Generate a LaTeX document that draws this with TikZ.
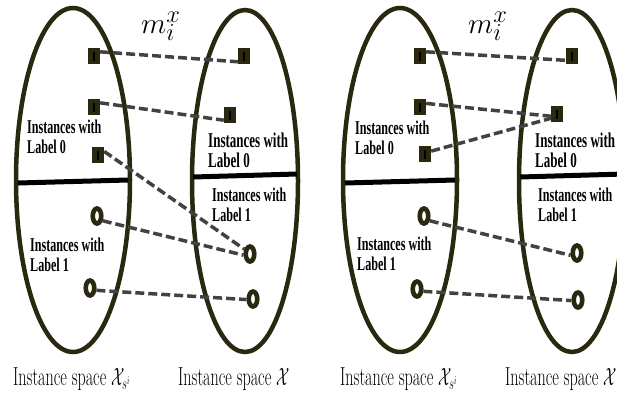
\documentclass[tikz,border=0pt]{standalone}
\usepackage{fontspec}
\usepackage{graphicx}
\usetikzlibrary{shapes.geometric}
\newfontfamily\lblfont{Liberation Serif}
\definecolor{olv}{RGB}{42,40,14}
\definecolor{dsh}{RGB}{66,66,66}
\newcommand{\twolines}[3]{\scalebox{0.62}[1]{\fontsize{#3}{20}\selectfont\begin{tabular}[t]{@{}l@{}}#1\\#2\end{tabular}}}
\tikzset{
  sq/.style={rectangle, fill=olv, minimum width=12pt, minimum height=16pt, inner sep=0pt,
    path picture={\draw[black,line width=2pt] ([yshift=-4.5pt]path picture bounding box.center)--([yshift=4.5pt]path picture bounding box.center);}},
  rg/.style={ellipse, draw=olv, fill=white, line width=4.6pt, minimum width=8.5pt, minimum height=15pt, inner sep=0pt},
  conn/.style={draw=dsh, line width=3.5pt, dash pattern=on 9pt off 4pt},
  lab/.style={inner sep=0pt, anchor=base west, font=\lblfont\bfseries},
  bot/.style={inner sep=0pt, anchor=base west, font=\fontsize{26}{28}\selectfont},
  mlab/.style={inner sep=0pt, anchor=base west, font=\fontsize{24.88}{26}\selectfont},
  space/.style={draw=olv, line width=4.5pt},
  divl/.style={draw=black, line width=5pt}
}
\begin{document}
\begin{tikzpicture}[x=1pt,y=-1pt]
\useasboundingbox (0,0) rectangle (617,400);
% ---------- left panel ----------
\draw[space] (73,180) ellipse [x radius=57, y radius=172];
\draw[space] (245,181) ellipse [x radius=53, y radius=171];
\draw[divl] (18,183) -- (128,180);
\draw[divl] (193,177) -- (297,174);
\node[sq] (as1) at (94,56) {};
\node[sq] (as2) at (94,107) {};
\node[sq] (as3) at (98,155) {};
\node[sq] (ar1) at (244,56) {};
\node[sq] (ar2) at (230,115) {};
\node[rg] (ac1) at (97,216) {};
\node[rg] (ac2) at (90,288) {};
\node[rg] (arc1) at (250,254) {};
\node[rg] (arc2) at (253,299) {};
\node[lab] (at1) at (27,133) {\twolines{Instances with}{Label 0}{19.5}};
\node[lab] (at2) at (208,147) {\twolines{Instances with}{Label 0}{21}};
\node[lab] (at3) at (30,251) {\twolines{Instances with}{Label 1}{19.5}};
\node[lab] (at4) at (212,201) {\twolines{Instances with}{Label 1}{19.5}};
\node[mlab] (am) at (141,33) {\scalebox{1.18}{$m_i^x$}};
\node[bot] (ab1) at (13,385) {\scalebox{0.62}[1]{Instance space $\mathcal{X}_{s^i}$}};
\node[bot] (ab2) at (178,385) {\scalebox{0.62}[1]{Instance space $\mathcal{X}$}};
\draw[conn] (as1.34) -- (ar1.223);
\draw[conn] (as2.34) -- (ar2.220);
\draw[conn] (as3.30) -- (arc1.140);
\draw[conn] (ac1.320) -- (arc1.190);
\draw[conn] (ac2.340) -- (arc2.185);
% ---------- right panel ----------
\begin{scope}[xshift=327pt]
\draw[space] (73,180) ellipse [x radius=57, y radius=172];
\draw[space] (245,181) ellipse [x radius=53, y radius=171];
\draw[divl] (18,183) -- (128,180);
\draw[divl] (193,177) -- (297,174);
\node[sq] (bs1) at (93,56) {};
\node[sq] (bs2) at (93,107) {};
\node[sq] (bs3) at (98,154) {};
\node[sq] (br1) at (245,56) {};
\node[sq] (br2) at (230,114) {};
\node[rg] (bc1) at (97,216) {};
\node[rg] (bc2) at (90,289) {};
\node[rg] (brc1) at (250,253) {};
\node[rg] (brc2) at (251,300) {};
\node[lab] (bt1) at (28,134) {\twolines{Instances with}{Label 0}{19.5}};
\node[lab] (bt2) at (208,147) {\twolines{Instances with}{Label 0}{21}};
\node[lab] (bt3) at (30,250) {\twolines{Instances with}{Label 1}{19.5}};
\node[lab] (bt4) at (211,201) {\twolines{Instances with}{Label 1}{19.5}};
\node[mlab] (bm) at (141,33) {\scalebox{1.18}{$m_i^x$}};
\node[bot] (bb1) at (13,385) {\scalebox{0.62}[1]{Instance space $\mathcal{X}_{s^i}$}};
\node[bot] (bb2) at (178,385) {\scalebox{0.62}[1]{Instance space $\mathcal{X}$}};
\draw[conn] (bs1.34) -- (br1.215);
\draw[conn] (bs2.30) -- (br2.200);
\draw[conn] (bs3.25) -- (br2.215);
\draw[conn] (bc1.320) -- (brc1.200);
\draw[conn] (bc2.340) -- (brc2.185);
\end{scope}
\end{tikzpicture}
\end{document}
